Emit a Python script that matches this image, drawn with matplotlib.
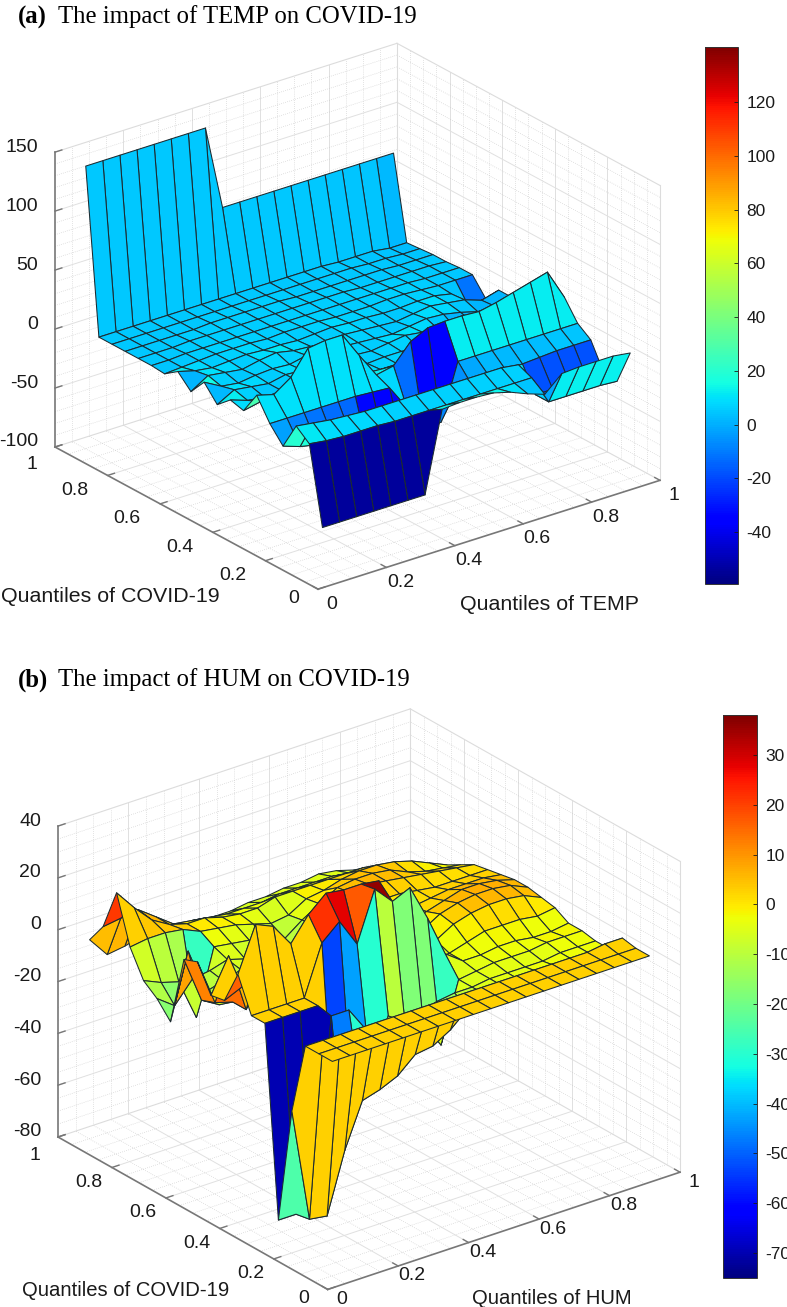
import numpy as np
import matplotlib
matplotlib.use("Agg")
import matplotlib.pyplot as plt
from matplotlib.colors import Normalize
from matplotlib.cm import ScalarMappable
from mpl_toolkits.mplot3d import proj3d

plt.rcParams["axes.unicode_minus"] = False

W, H = 787, 1307

quantiles = [0.05, 0.10, 0.15, 0.20, 0.25, 0.30, 0.35, 0.40, 0.45, 0.50,
             0.55, 0.60, 0.65, 0.70, 0.75, 0.80, 0.85, 0.90, 0.95]

# rows: quantiles of COVID-19, columns: quantiles of TEMP
temp_effect = [
    [-58, -58, -58, -58, -58, -58, -58, 10, 11, 11, 10, 6, 0, -5, 8, 9, 9, 9, 7],
    [7, 5, 4, 4, 4, 3, 3, 3, 3, 3, 3, 3, 3, 3, -22, -22, -22, -22, -23],
    [16, 14, 12, 11, 10, 10, 10, 10, 10, 10, 10, 10, 10, 8, -22, -22, -22, -22, -22],
    [-7, -12, -15, -17, -18, -37, -38, -39, -18, -12, -10, -5, -2, -2, -2, -1, 0, 0, 0],
    [6, 6, 6, 6, 6, 6, 5, 4, -17, -39, -39, 8, 8, 8, 8, 8, 8, 8, 8],
    [24, 20, 30, 50, 52, 52, 30, 9, 12, 28, 35, 36, 36, 35, 38, 42, 46, 50, 24],
    [5, 8, 10, 12, 8, 6, 4, 4, 3, 3, 2, 4, 5, 2, -3, -5, -8, -2, 4],
    [8, 3, 1, 2, 5, 6, 5, 3, 2, 3, 3, 2, 1, -2, -3, -12, -14, -13, -5],
    [-2, 6, 4, 2, 5, 4, 4, 5, 3, 2, 4, 6, 4, 1, -3, -2, -6, -4, -1],
    [11, 3, 1, 3, 4, 3, 6, 5, 4, 3, 2, 1, 3, 5, 4, 1, -3, -3, 0],
    [-3, 6, 4, 2, 5, 7, 4, 3, 2, 4, 3, 2, 1, 3, 5, 3, 1, -4, 0],
    [8, 4, 2, 3, 4, 3, 3, 2, 3, 4, 3, 3, 2, 2, 3, 3, 0, -15, -13],
    [0, 1, 2, 3, 3, 3, 2, 3, 3, 3, 2, 2, 2, 3, 3, 2, 1, 1, 1],
    [1, 1, 2, 2, 2, 2, 2, 2, 2, 2, 2, 2, 2, 2, 2, 2, 1, 1, 1],
    [1, 1, 1, 2, 2, 2, 2, 2, 2, 2, 2, 2, 2, 1, 1, 1, 1, 1, 0],
    [1, 1, 1, 1, 1, 2, 2, 2, 2, 2, 1, 1, 1, 1, 1, 1, 0, 0, 0],
    [1, 1, 1, 1, 1, 1, 1, 1, 1, 1, 1, 1, 1, 1, 1, 0, 0, -1, -1],
    [1, 1, 1, 1, 1, 1, 1, 1, 1, 1, 1, 1, 1, 1, 0, 0, 0, -2, -2],
    [140, 140, 140, 140, 140, 140, 140, 140, 68, 68, 68, 68, 68, 68, 68, 68, 68, 68, 68],
]

# rows: quantiles of COVID-19, columns: quantiles of HUM
hum_effect = [
    [3, 3, 3, 3, 3, 3, 3, 3, 3, 3, 3, 3, 3, 3, 3, 3, 3, 3, 3],
    [3, 3, 3, 3, 3, 3, 3, 3, 3, 3, 3, 3, 3, 3, 3, 3, 3, 3, 3],
    [3, 3, 3, 3, 3, 3, 3, 3, 3, 3, 3, 3, 3, 3, 3, 3, 3, 4, 4],
    [-25, -69, -70, -47, -30, -28, -25, -19, -18, -14, -8, -5, -4, -4, -3, -3, -3, -3, -3],
    [-70, -70, -70, 2, 2, -8, -10, -9, -8, -6, -5, -5, -4, -4, -4, -4, -3, -3, -3],
    [3, 3, 3, 3, -53, -43, -30, -10, -18, -18, -28, -5, -4, -3, -3, -3, -2, -2, -2],
    [3, 3, 3, 3, 22, 28, 17, 36, 29, 32, 18, 2, -3, -3, -2, -2, -3, -3, -2],
    [16, 33, 30, 21, 30, 36, 35, 35, 34, 10, 0, -4, -3, -1, 1, 1, 1, 0, 1],
    [3, 6, 14, -6, -5, -8, -10, -8, -5, -4, -3, -2, -1, 3, 5, 6, 6, 5, 2],
    [2, 15, -8, 4, 8, -10, -9, -8, -10, -5, -3, -2, 0, 4, 6, 7, 7, 6, 3],
    [12, -6, -8, -5, -6, -8, -7, -10, -12, -6, -3, -2, 0, 2, 4, 6, 6, 5, 3],
    [10, -8, -12, -5, -7, -6, -9, -12, -13, -5, -2, -1, 0, 1, 2, 3, 3, 3, 2],
    [-17, 8, -10, -8, -6, -8, -11, -12, -10, -3, 1, 3, 3, 3, 2, 1, 1, 1, 1],
    [-11, -16, -8, -7, -5, -7, -8, -12, -10, -3, 3, 5, 6, 5, 4, 3, 2, 1, 0],
    [-7, -10, -12, -28, -3, -4, -5, -8, -9, -4, 0, 4, 5, 5, 4, 1, -1, -2, -3],
    [3, 4, 4, 3, 0, -1, -2, -4, -6, -5, -1, 0, 2, 3, 3, 2, 0, -3, -6],
    [21, 13, 6, 2, 0, 0, -2, -3, -3, -1, -1, -1, -1, -1, -1, -3, -6, -9, -11],
    [5, 6, 7, 2, -3, -4, -5, -6, -6, -6, -5, -5, -5, -5, -6, -8, -10, -12, -14],
    [-3, -11, -10, -8, -7, -9, -10, -10, -10, -9, -9, -8, -8, -7, -8, -10, -11, -14, -17],
]

axis_ticks = [0, 0.2, 0.4, 0.6, 0.8, 1]
axis_ticklabels = ["0", "0.2", "0.4", "0.6", "0.8", "1"]
temp_z_ticks = [-100, -50, 0, 50, 100, 150]
hum_z_ticks = [-80, -60, -40, -20, 0, 20, 40]
temp_cbar_ticks = [-40, -20, 0, 20, 40, 60, 80, 100, 120]
hum_cbar_ticks = [-70, -60, -50, -40, -30, -20, -10, 0, 10, 20, 30]

jet = matplotlib.colormaps.get_cmap("jet")
SANS = "Liberation Sans"
SERIF = "Liberation Serif"
TXT = "#1a1a1a"


def to_disp(ax, x, y, z):
    px, py, _ = proj3d.proj_transform(x, y, z, ax.get_proj())
    return ax.transData.transform((px, py))


# moves the 3d box so its corners land on the wanted pixels of the picture
def fit_box(ax, zmin, left_xy, right_xy):
    s = 600.0
    ax.set_position([0.2, 0.2, s / W, s / H])
    ax.apply_aspect()
    p0 = to_disp(ax, 0, 1, zmin)
    p1 = to_disp(ax, 1, 0, zmin)
    s = s * (right_xy[0] - left_xy[0]) / (p1[0] - p0[0])
    ax.set_position([0.2, 0.2, s / W, s / H])
    ax.apply_aspect()
    p0 = to_disp(ax, 0, 1, zmin)
    dx = left_xy[0] - p0[0]
    dy = (H - left_xy[1]) - p0[1]
    ax.set_position([0.2 + dx / W, 0.2 + dy / H, s / W, s / H])
    ax.apply_aspect()


def line3(ax, xs, ys, zs, **kw):
    ax.plot(xs, ys, zs, zorder=1, **kw)


def draw_box(ax, zticks, zminor):
    zmin, zmax = zticks[0], zticks[-1]
    major = dict(color="#e0e0e0", lw=0.7)
    minor = dict(color="#c8c8c8", lw=0.5, ls=(0, (1, 2)))
    for v in np.arange(0.05, 1.0, 0.05):
        is_major = abs(v * 5 - round(v * 5)) < 1e-6
        st = major if is_major else minor
        line3(ax, [v, v], [0, 1], [zmin, zmin], **st)
        line3(ax, [0, 1], [v, v], [zmin, zmin], **st)
        line3(ax, [v, v], [1, 1], [zmin, zmax], **st)
        line3(ax, [1, 1], [v, v], [zmin, zmax], **st)
    for v in np.arange(zmin + zminor, zmax, zminor):
        st = major if v in zticks else minor
        line3(ax, [0, 1], [1, 1], [v, v], **st)
        line3(ax, [1, 1], [0, 1], [v, v], **st)
    # box edges
    for xs, ys, zs in [([0, 1], [1, 1], [zmax, zmax]), ([1, 1], [0, 1], [zmax, zmax]),
                       ([1, 1], [1, 1], [zmin, zmax]), ([1, 1], [1, 0], [zmin, zmin]),
                       ([0, 1], [1, 1], [zmin, zmin]), ([1, 1], [0, 0], [zmin, zmax])]:
        line3(ax, xs, ys, zs, color="#dcdcdc", lw=0.8)
    axc = "#777777"
    line3(ax, [0, 0], [1, 1], [zmin, zmax], color=axc, lw=1.2)
    line3(ax, [0, 1], [0, 0], [zmin, zmin], color=axc, lw=1.2)
    line3(ax, [0, 0], [0, 1], [zmin, zmin], color=axc, lw=1.2)
    for t in axis_ticks:
        line3(ax, [t, t], [0, 0.02], [zmin, zmin], color=axc, lw=1.0)
        line3(ax, [0, 0.02], [t, t], [zmin, zmin], color=axc, lw=1.0)
    for t in zticks:
        line3(ax, [0, 0.02], [1, 1], [t, t], color=axc, lw=1.0)


def label_at(ax, xyz, txt, dx, dy, ha="center"):
    px, py, _ = proj3d.proj_transform(xyz[0], xyz[1], xyz[2], ax.get_proj())
    ax.annotate(txt, xy=(px, py), xytext=(dx, dy), textcoords="offset pixels",
                ha=ha, va="center", fontsize=14, family=SANS, color=TXT,
                annotation_clip=False)


def draw_panel(values, zticks, zminor, vmin, vmax, shift, aspect, elev, left_xy, right_xy,
               cbar_px, cbar_ticks, covid_dx, front_dy):
    Z = np.array(values, dtype=float)
    X, Y = np.meshgrid(quantiles, quantiles)
    ax = fig.add_subplot(projection="3d", computed_zorder=False, proj_type="ortho")
    ax.set_xlim(0, 1, view_margin=0)
    ax.set_ylim(0, 1, view_margin=0)
    ax.set_zlim(zticks[0], zticks[-1], view_margin=0)
    ax.set_box_aspect(aspect)
    ax.view_init(elev=elev, azim=-127.5)
    ax.set_axis_off()
    ax.patch.set_alpha(0)
    fit_box(ax, zticks[0], left_xy, right_xy)

    norm = Normalize(vmin, vmax)
    draw_box(ax, zticks, zminor)
    # one surface per cell, far cells first: depth sorting fails on the tall walls
    order = 2
    n = len(quantiles)
    for i in range(n - 2, -1, -1):
        for j in range(n - 2, -1, -1):
            c = jet(norm(Z[i, j] + shift))
            cell = ax.plot_surface(X[i:i + 2, j:j + 2], Y[i:i + 2, j:j + 2], Z[i:i + 2, j:j + 2],
                                   color=c, shade=False, linewidth=0.75, zorder=order)
            cell.set_edgecolor("#1c2a30")
            order += 1

    for t, lab in zip(axis_ticks, axis_ticklabels):
        label_at(ax, (t, 0, zticks[0]), lab, 14, front_dy)
        if t == 1:
            label_at(ax, (0, t, zticks[0]), lab, -23, -18)
        elif t > 0:
            label_at(ax, (0, t, zticks[0]), lab, covid_dx, -15)
        else:
            label_at(ax, (0, t, zticks[0]), lab, -24, -9)
    for t in zticks:
        label_at(ax, (0, 1, t), str(t), -17, 5, ha="right")

    x0, y0, x1, y1 = cbar_px
    cax = fig.add_axes([x0 / W, 1 - y1 / H, (x1 - x0) / W, (y1 - y0) / H])
    cb = fig.colorbar(ScalarMappable(norm=norm, cmap=jet), cax=cax, ticks=cbar_ticks)
    cb.ax.tick_params(direction="in", length=3, width=0.6, labelsize=12.5, colors=TXT, pad=6)
    for lab in cb.ax.get_yticklabels():
        lab.set_family(SANS)
    cb.outline.set_edgecolor("#333333")
    cb.outline.set_linewidth(0.7)
    return ax


fig = plt.figure(figsize=(W / 100, H / 100), dpi=100, facecolor="white")

draw_panel(temp_effect, temp_z_ticks, 10, -59.3, 140.5, 4, (431, 432, 324), 24.5,
           (55, 447), (660, 478), (705, 47, 738, 584), temp_cbar_ticks, -33, -15)
draw_panel(hum_effect, hum_z_ticks, 5, -75, 38, 0, (444, 443, 345), 25.7,
           (58, 1137), (680, 1168), (723, 715, 757, 1278), hum_cbar_ticks, -23, -10)


def ptext(x, y, s, **kw):
    fig.text(x / W, 1 - y / H, s, va="center", **kw)


ptext(18, 17, "(a)", family=SERIF, fontsize=17.8, fontweight="bold")
ptext(58, 17, "The impact of TEMP on COVID-19", family=SERIF, fontsize=17.8)
ptext(18, 680, "(b)", family=SERIF, fontsize=17.8, fontweight="bold")
ptext(58, 680, "The impact of HUM on COVID-19", family=SERIF, fontsize=17.8)
ptext(1, 596, "Quantiles of COVID-19", family=SANS, fontsize=15.4, color=TXT)
ptext(460, 604, "Quantiles of TEMP", family=SANS, fontsize=15.4, color=TXT)
ptext(22, 1291, "Quantiles of COVID-19", family=SANS, fontsize=14.6, color=TXT)
ptext(472, 1299, "Quantiles of HUM", family=SANS, fontsize=14.6, color=TXT)

fig.savefig("out.png", dpi=100)
